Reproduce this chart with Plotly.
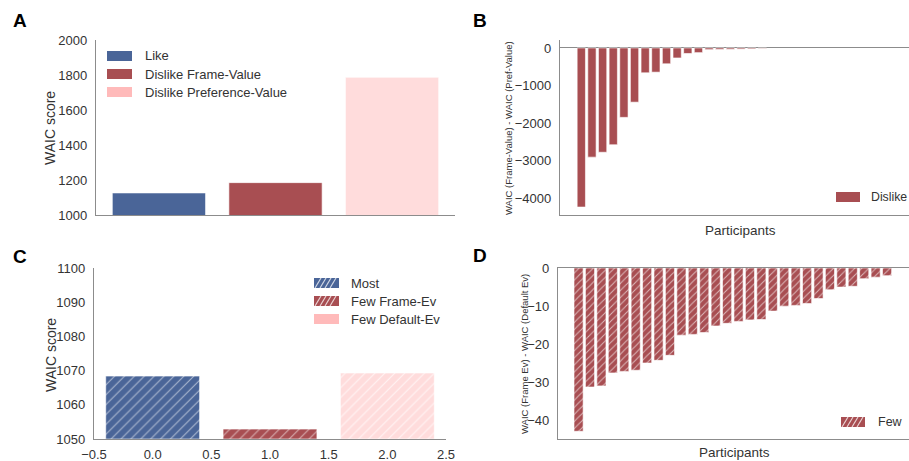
import plotly.graph_objects as go

W, H = 909, 461

# ---------------- data ----------------
a_categories = ["Like", "Dislike Frame-Value", "Dislike Preference-Value"]
a_values = [1126, 1185, 1787]

b_values = [-4240, -2910, -2780, -2580, -1850, -1445, -662, -645, -422,
            -267, -147, -125, -45, -40, -35, -30, -25, -15]

c_categories = ["Most", "Few Frame-Ev", "Few Default-Ev"]
c_values = [1068.4, 1052.9, 1069.3]

d_values = [-42.8, -31.2, -30.9, -27.5, -27.1, -26.8, -24.9, -24.2, -22.9,
            -17.6, -17.4, -16.9, -15.2, -14.5, -14.0, -13.6, -13.5, -11.3,
            -10.0, -9.8, -9.3, -8.0, -5.7, -5.0, -4.8, -2.8, -2.4, -2.0]

a_ticks = [1000, 1200, 1400, 1600, 1800, 2000]
b_ticks = [0, -1000, -2000, -3000, -4000]
c_yticks = [1050, 1060, 1070, 1080, 1090, 1100]
c_xticks = [-0.5, 0.0, 0.5, 1.0, 1.5, 2.0, 2.5]
d_ticks = [0, -10, -20, -30, -40]

# ---------------- style ----------------
BLUE = "#4a6598"
RED = "#a84e52"
PINK_BAR = "#ffdcdc"
PINK_SW = "#ffbaba"
SPINE = "#8c8c8c"
TXT = "#333333"
FONT = "Liberation Sans, Arial, sans-serif"
EDGE = dict(color="rgba(255,255,255,0.6)", width=1)


def px(x):
    return x / W


def py(y):
    return 1 - y / H


fig = go.Figure()

# Panel A
fig.add_trace(go.Bar(x=[0, 1, 2], y=a_values, width=0.8,
                     marker=dict(color=[BLUE, RED, PINK_BAR], line=EDGE),
                     xaxis="x", yaxis="y", showlegend=False))
# Panel B
fig.add_trace(go.Bar(x=list(range(len(b_values))), y=b_values, width=0.78,
                     marker=dict(color=RED, line=EDGE),
                     xaxis="x2", yaxis="y2", showlegend=False))
# Panel C (one trace per bar to control hatch per colour)
c_colors = [BLUE, RED, PINK_BAR]
c_fgop = [0.55, 0.55, 0.7]
for i, (v, col, op) in enumerate(zip(c_values, c_colors, c_fgop)):
    fig.add_trace(go.Bar(x=[i], y=[v - 1050], base=1050, width=0.8,
                         marker=dict(color=col, line=EDGE,
                                     pattern=dict(shape="/", size=7, solidity=0.15,
                                                  fgcolor="#ffffff", fgopacity=op,
                                                  bgcolor=col)),
                         xaxis="x3", yaxis="y3", showlegend=False))
# Panel D
fig.add_trace(go.Bar(x=list(range(len(d_values))), y=d_values, width=0.8,
                     marker=dict(color=RED, line=EDGE,
                                 pattern=dict(shape="/", size=5, solidity=0.2,
                                              fgcolor="#ffffff", fgopacity=0.6,
                                              bgcolor=RED)),
                     xaxis="x4", yaxis="y4", showlegend=False))

common_ax = dict(showgrid=False, zeroline=False, showline=True, linecolor=SPINE,
                 linewidth=1.3, ticks="", automargin=False,
                 tickfont=dict(size=13, color=TXT, family=FONT))

fig.update_layout(
    template="none",
    width=W, height=H, margin=dict(l=0, r=0, t=0, b=0, pad=0),
    paper_bgcolor="white", plot_bgcolor="white",
    font=dict(family=FONT, color=TXT), bargap=0.2, barmode="overlay",
    xaxis=dict(common_ax, domain=[px(96), px(455)], range=[-0.54, 2.54],
               showticklabels=False, anchor="y"),
    yaxis=dict(common_ax, domain=[py(215), py(40)], range=[1000, 2000],
               tickvals=a_ticks, ticklabelstandoff=5, anchor="x"),
    xaxis2=dict(common_ax, domain=[px(560), 1.0], range=[-2.0, 30.77],
                showticklabels=False, anchor="y2"),
    yaxis2=dict(common_ax, domain=[py(215), py(40)], range=[-4452, 212],
                tickvals=b_ticks, ticklabelstandoff=5, anchor="x2",
                zeroline=True, zerolinecolor=SPINE, zerolinewidth=1.3),
    xaxis3=dict(common_ax, domain=[px(94), px(446)], range=[-0.5, 2.5],
                tickvals=c_xticks, tickformat=".1f", ticklabelstandoff=3, anchor="y3"),
    yaxis3=dict(common_ax, domain=[py(439), py(268)], range=[1050, 1100],
                tickvals=c_yticks, ticklabelstandoff=5, anchor="x3"),
    xaxis4=dict(common_ax, domain=[px(558), 1.0], range=[-1.8, 28.92],
                showticklabels=False, anchor="y4", mirror=True),
    yaxis4=dict(common_ax, domain=[py(439.3), py(268)], range=[-44.9, 0],
                tickvals=d_ticks, ticklabelstandoff=5, anchor="x4"),
)

annotations = []
shapes = []


def text(x, y, s, size=13, angle=0, bold=False, xanchor="center"):
    annotations.append(dict(x=px(x), y=py(y), xref="paper", yref="paper", text=s,
                            showarrow=False, textangle=angle, xanchor=xanchor,
                            yanchor="middle",
                            font=dict(size=size, color="#000000" if bold else TXT,
                                      family=FONT)))


# panel letters
for lx, ly, s in [(20, 20, "A"), (480, 21, "B"), (20, 256, "C"), (480, 255, "D")]:
    text(lx, ly, "<b>%s</b>" % s, size=19, bold=True)

# axis labels
text(50, 128, "WAIC score", size=14, angle=-90)
text(51, 355, "WAIC score", size=14, angle=-90)
text(509, 128, "WAIC (Frame-Value) - WAIC (Pref-Value)", size=9.5, angle=-90)
text(524, 354, "WAIC (Frame Ev) - WAIC (Default Ev)", size=9.5, angle=-90)
text(740, 230, "Participants", size=13.5)
text(734, 452, "Participants", size=13.5)


def swatch(x0, x1, yc, color, hatch=False, h=10):
    y0, y1 = yc - h / 2, yc + h / 2
    shapes.append(dict(type="rect", xref="paper", yref="paper", x0=px(x0), x1=px(x1),
                       y0=py(y1), y1=py(y0), fillcolor=color, line=dict(width=0)))
    if hatch:
        step = 5
        xs = x0 + 1
        while xs + h * 0.6 <= x1:
            shapes.append(dict(type="line", xref="paper", yref="paper",
                               x0=px(xs), y0=py(y1), x1=px(xs + h * 0.6), y1=py(y0),
                               line=dict(color="rgba(255,255,255,0.75)", width=1.2)))
            xs += step


# legend A
a_colors = [BLUE, RED, PINK_SW]
for i, (lab, col) in enumerate(zip(a_categories, a_colors)):
    yc = 56 + 18 * i
    swatch(107, 132, yc, col)
    text(143, yc, lab, size=13, xanchor="left")

# legend C
c_hatch = [True, True, False]
for i, (lab, col, hh) in enumerate(zip(c_categories, a_colors, c_hatch)):
    yc = 283 + 18 * i
    swatch(314, 339, yc, col, hatch=hh)
    text(349, yc, lab, size=13, xanchor="left")

# legend B and D
swatch(836, 860, 197, RED)
text(869, 197, "Dislike", size=12.3, xanchor="left")
swatch(841, 865, 422, RED, hatch=True)
text(876, 422, "Few", size=12.5, xanchor="left")

fig.update_layout(annotations=annotations, shapes=shapes)

fig.write_html("out.html",
               config={"displayModeBar": False},
               post_script="document.body.style.margin='0';"
                           "document.body.style.overflow='hidden';")
